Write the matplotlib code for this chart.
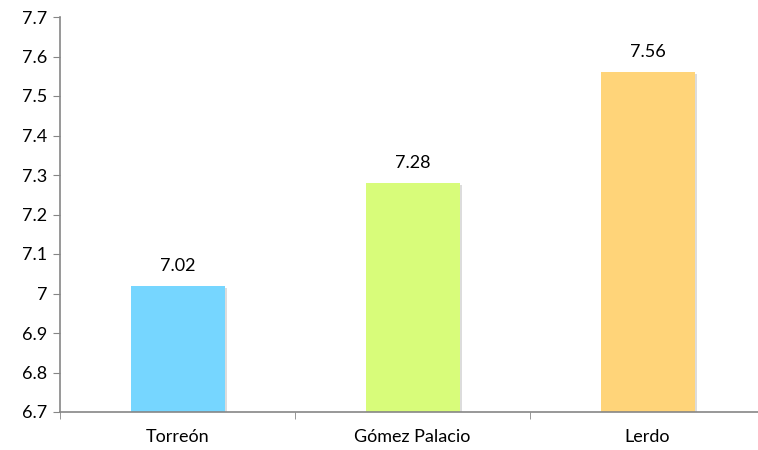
import matplotlib.pyplot as plt
import matplotlib.patheffects as pe
import numpy as np

municipios = ['Torreón', 'Gómez Palacio', 'Lerdo']
valores = [7.02, 7.28, 7.56]
colores = ['#76D6FF', '#D8FC7A', '#FFD479']
yticks = np.round(np.arange(6.7, 7.71, 0.1), 1)

plt.rcParams['font.family'] = ['Lato', 'DejaVu Sans']

fig = plt.figure(figsize=(7.58, 4.5), dpi=100)
ax = fig.add_axes([60 / 758, (450 - 412) / 450, 705 / 758, (412 - 17) / 450])

x = np.arange(len(municipios))
bars = ax.bar(x, [v - 6.7 for v in valores], bottom=6.7, width=0.4, color=colores,
              path_effects=[pe.SimplePatchShadow(offset=(1.5, -1.5), shadow_rgbFace='#bbbbbb', alpha=0.5),
                            pe.Normal()])
for xi, v in zip(x, valores):
    ax.text(xi, v + 0.03, f'{v:.2f}', ha='center', va='bottom', fontsize=13)

ax.set_xlim(-0.5, 2.5)
ax.set_ylim(6.7, 7.7)
ax.set_yticks(yticks)
ax.set_yticklabels(['7' if t == 7.0 else f'{t:.1f}' for t in yticks], fontsize=13)
ax.set_xticks(x)
ax.set_xticklabels(municipios, fontsize=13)
ax.tick_params(axis='x', length=0, pad=12)
ax.set_xticks([-0.5, 0.5, 1.5, 2.5], minor=True)
ax.tick_params(axis='x', which='minor', length=5, color='#868686', direction='out')
ax.tick_params(axis='y', length=5, color='#868686', direction='out', pad=4)

for s in ['top', 'right']:
    ax.spines[s].set_visible(False)
for s in ['left', 'bottom']:
    ax.spines[s].set_color('#868686')
    ax.spines[s].set_linewidth(1.2)

fig.savefig('out.png', dpi=100)
